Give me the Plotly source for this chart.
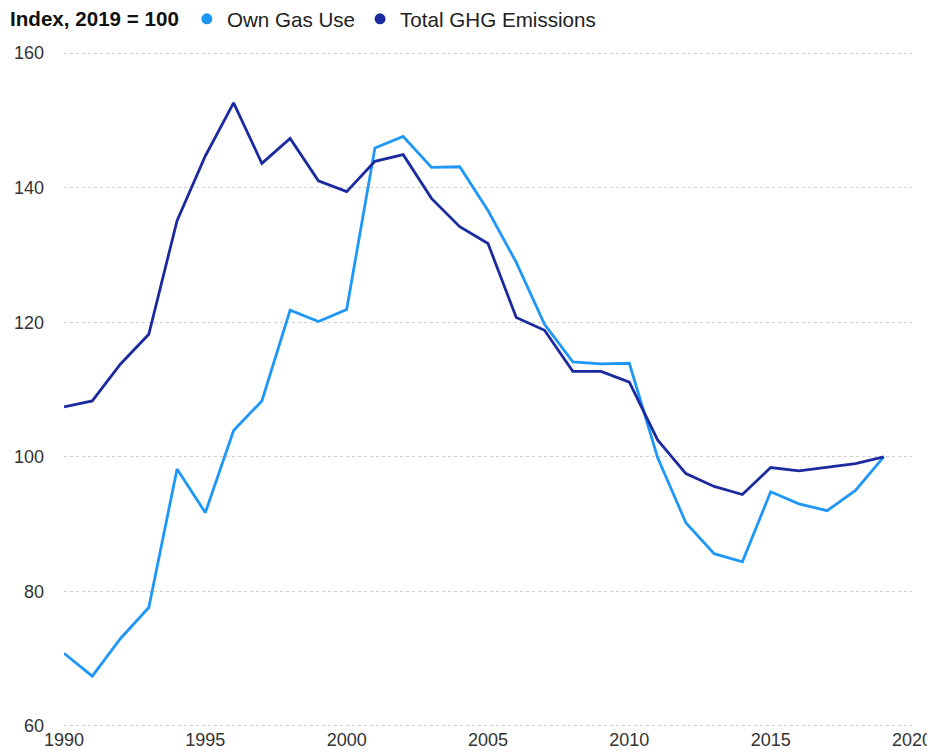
import plotly.graph_objects as go

years = list(range(1990, 2020))

own_gas_use = [70.8, 67.4, 73.0, 77.6, 98.2, 91.7, 103.9, 108.3, 121.8, 120.1,
               121.9, 145.9, 147.6, 143.0, 143.1, 136.6, 128.9, 119.7, 114.1, 113.8,
               113.9, 99.9, 90.2, 85.6, 84.4, 94.8, 93.0, 92.0, 95.0, 100.0]

total_ghg = [107.4, 108.3, 113.8, 118.2, 135.1, 144.7, 152.6, 143.6, 147.3, 141.0,
             139.4, 143.9, 144.9, 138.4, 134.2, 131.7, 120.7, 118.8, 112.7, 112.7,
             111.1, 102.5, 97.5, 95.6, 94.4, 98.4, 97.9, 98.5, 99.0, 100.0]

series = [("Own Gas Use", own_gas_use, "#1f97f7"),
          ("Total GHG Emissions", total_ghg, "#1b2a9e")]

fig = go.Figure()
for name, vals, col in series:
    fig.add_trace(go.Scatter(x=years, y=vals, mode="lines", name=name,
                             line=dict(color=col, width=2.8), showlegend=False))
    # dot-shaped legend entry
    fig.add_trace(go.Scatter(x=[None], y=[None], mode="markers", name=name,
                             marker=dict(color=col, size=11)))

# page body adds an 8px offset, so the figure is a bit smaller than the window
fig.update_layout(
    width=927, height=744,
    margin=dict(l=56, r=23, t=44, b=25, autoexpand=False),
    plot_bgcolor="white", paper_bgcolor="white",
    font=dict(family="Arial, Liberation Sans, sans-serif", size=18, color="#333"),
    legend=dict(orientation="h", xref="container", yref="paper",
                x=0.0, y=1.049, xanchor="left", yanchor="middle",
                title=dict(text="<b>Index, 2019 = 100</b>",
                           font=dict(size=20.6, color="#111")),
                font=dict(size=20.6, color="#222"),
                itemwidth=30, tracegroupgap=0, borderwidth=0),
)
fig.update_xaxes(range=[1990, 2020], tick0=1990, dtick=5, showgrid=False,
                 zeroline=False, showline=False, ticks="")
# tiny padding so the 60 and 160 gridlines are drawn
fig.update_yaxes(range=[59.85, 160.15], tick0=60, dtick=20, showgrid=True,
                 gridcolor="#cfcfcf", griddash="dot", gridwidth=1,
                 zeroline=False, showline=False, ticklabelstandoff=19)

fig.write_html("out.html")
